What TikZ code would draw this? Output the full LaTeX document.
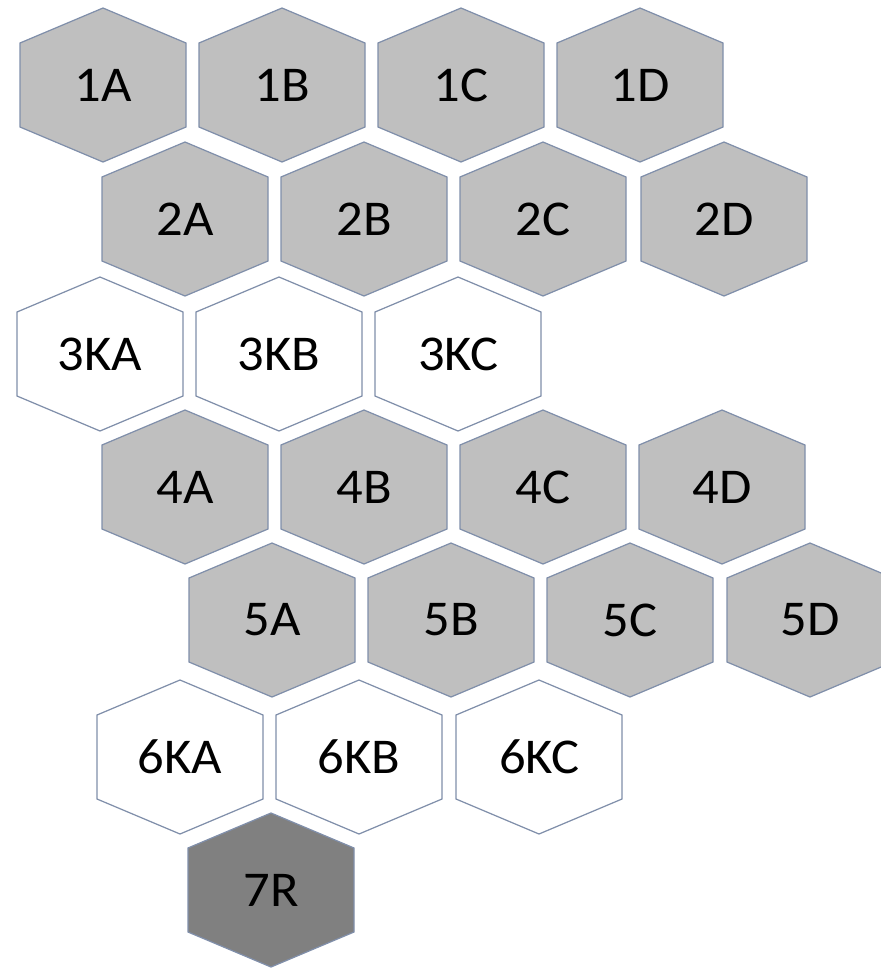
\documentclass[tikz,border=0pt]{standalone}
\usepackage{fontspec}
\setmainfont{Carlito}
\usepackage{tikz}

\definecolor{hexline}{RGB}{128,143,170}
\definecolor{hexgrey}{RGB}{191,191,191}
\definecolor{hexdark}{RGB}{128,128,128}

\tikzset{
  hexedge/.style={draw=hexline,line width=0.7pt},
  celltext/.style={font=\fontsize{28.5}{32}\selectfont,text=black,inner sep=0pt}
}

% one hexagon cell: x, y, label, fill
\newcommand{\hexcell}[4]{%
  \filldraw[hexedge,fill=#4] (#1,#2) ++(0,-77) -- ++(83,35) -- ++(0,84)
    -- ++(-83,35) -- ++(-83,-35) -- ++(0,-84) -- cycle;
  \node[celltext] (cell#3) at (#1,#2) {\scalebox{1.05}[1]{#3}};
}

\begin{document}
\begin{tikzpicture}[x=0.02cm,y=-0.02cm]
\useasboundingbox (0,0) rectangle (881,968);
% rows 1, 2, 4, 5: grey cells
\foreach \x/\lbl in {103/1A,282/1B,461/1C,640/1D} {\hexcell{\x}{85}{\lbl}{hexgrey}}
\foreach \x/\lbl in {185/2A,364/2B,543/2C,724/2D} {\hexcell{\x}{219}{\lbl}{hexgrey}}
\foreach \x/\lbl in {185/4A,364/4B,543/4C,722/4D} {\hexcell{\x}{487}{\lbl}{hexgrey}}
\foreach \x/\lbl in {272/5A,451/5B,630/5C,810/5D} {\hexcell{\x}{620}{\lbl}{hexgrey}}
% rows 3 and 6: white cells
\foreach \x/\lbl in {100/3KA,279/3KB,458/3KC} {\hexcell{\x}{354}{\lbl}{white}}
\foreach \x/\lbl in {180/6KA,359/6KB,539/6KC} {\hexcell{\x}{757}{\lbl}{white}}
% row 7
\hexcell{271}{890}{7R}{hexdark}
\end{tikzpicture}
\end{document}
